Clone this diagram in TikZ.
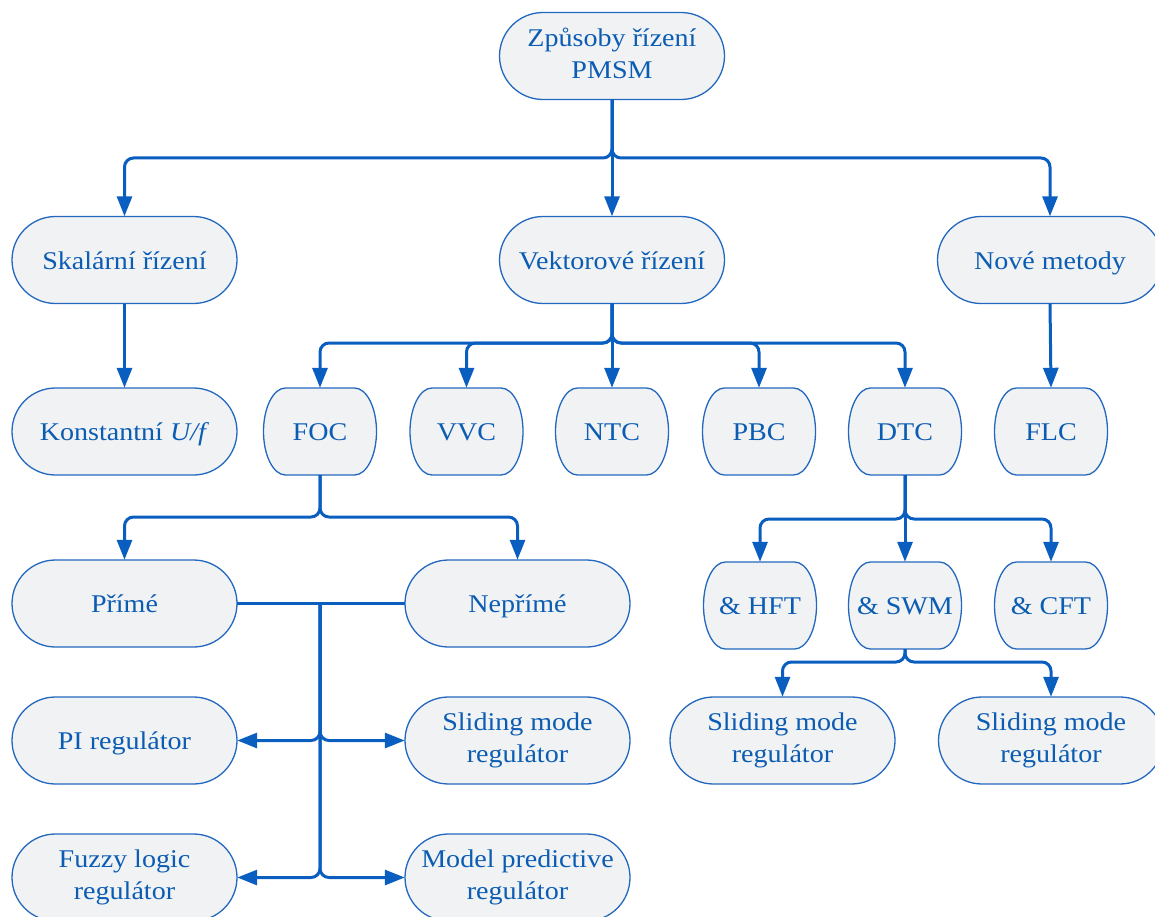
\documentclass[tikz,border=0pt]{standalone}
\usepackage{fontspec}
\setmainfont{Liberation Serif}[FakeStretch=1.1]
\usetikzlibrary{arrows.meta}

\definecolor{lineblue}{HTML}{0A5EC0}
\definecolor{textblue}{HTML}{0B5CB3}
\definecolor{boxedge}{HTML}{2368BF}
\definecolor{boxfill}{HTML}{F1F2F4}

\tikzset{
  pillshape/.style={fill=boxfill, draw=boxedge, line width=1.3pt},
  pilltext/.style={inner sep=0pt, text=textblue, align=center,
                   font=\fontsize{25.5}{32}\selectfont,
                   execute at begin node={\rule{0pt}{24.8pt}},
                   execute at end node={\rule[-6pt]{0pt}{6pt}}},
  link/.style={draw=lineblue, line width=3pt, rounded corners=9pt},
  arr/.style={link, -{Triangle[length=20pt,width=15pt]}},
}

% \pill{name}{centre x}{centre y (downwards)}{width}{end radius}{text}
\newcommand{\pill}[6]{%
  \path[pillshape] ({#2-#4/2+#5},{-#3+43.5}) -- ({#2+#4/2-#5},{-#3+43.5})
    arc[start angle=90, end angle=-90, x radius=#5pt, y radius=43.5pt]
    -- ({#2-#4/2+#5},{-#3-43.5})
    arc[start angle=270, end angle=90, x radius=#5pt, y radius=43.5pt] -- cycle;
  \node[pilltext, minimum width=#4pt, minimum height=87pt] (#1) at (#2,-#3) {#6};
}

\begin{document}
\begin{tikzpicture}[x=1pt, y=1pt]
\useasboundingbox (0,0) rectangle (1155,-917);

% root
\pill{root}{612}{56}{225}{43.5}{Způsoby řízení\\PMSM}

% main families
\pill{skal}{124.5}{260}{225}{43.5}{Skalární řízení}
\pill{vekt}{612}{260}{225}{43.5}{Vektorové řízení}
\pill{nove}{1050}{260}{225}{43.5}{Nové metody}

% methods
\pill{konst}{124.5}{431.5}{225}{43.5}{Konstantní \textit{U/f}}
\pill{foc}{320}{431.5}{113}{22}{FOC}
\pill{vvc}{466.5}{431.5}{113}{22}{VVC}
\pill{ntc}{612}{431.5}{113}{22}{NTC}
\pill{pbc}{759}{431.5}{113}{22}{PBC}
\pill{dtc}{905}{431.5}{113}{22}{DTC}
\pill{flc}{1051}{431.5}{113}{22}{FLC}

% FOC / DTC variants
\pill{prime}{124.5}{603.5}{225}{43.5}{Přímé}
\pill{neprime}{517.5}{603.5}{225}{43.5}{Nepřímé}
\pill{hft}{760}{605.5}{113}{22}{\& HFT}
\pill{swm}{905}{605.5}{113}{22}{\& SWM}
\pill{cft}{1051}{605.5}{113}{22}{\& CFT}

% regulators
\pill{pi}{124.5}{740.5}{225}{43.5}{PI regulátor}
\pill{smra}{517.5}{740.5}{225}{43.5}{Sliding mode\\regulátor}
\pill{smrb}{782.5}{740.5}{225}{43.5}{Sliding mode\\regulátor}
\pill{smrc}{1051}{740.5}{225}{43.5}{Sliding mode\\regulátor}
\pill{fuzzy}{124.5}{877.5}{225}{43.5}{Fuzzy logic\\regulátor}
\pill{mpc}{517.5}{877.5}{225}{43.5}{Model predictive\\regulátor}

% branch points
\coordinate (j0) at (612,-158);
\coordinate (j1) at (612,-343);
\coordinate (j2) at (320,-517);
\coordinate (j3) at (905,-519);
\coordinate (j4) at (905,-662);
\coordinate (jr) at (320,-603.5);

% root -> families
\draw[arr] (root.south) -- (j0) -| (skal.north);
\draw[arr] (root.south) -- (vekt.north);
\draw[arr] (root.south) -- (j0) -| (nove.north);

% families -> methods
\draw[arr] (skal.south) -- (konst.north);
\draw[arr] (nove.south) -- (flc.north);
\draw[arr] (vekt.south) -- (j1) -| (foc.north);
\draw[arr] (vekt.south) -- (j1) -| (vvc.north);
\draw[arr] (vekt.south) -- (ntc.north);
\draw[arr] (vekt.south) -- (j1) -| (pbc.north);
\draw[arr] (vekt.south) -- (j1) -| (dtc.north);

% FOC variants
\draw[arr] (foc.south) -- (j2) -| (prime.north);
\draw[arr] (foc.south) -- (j2) -| (neprime.north);

% DTC variants
\draw[arr] (dtc.south) -- (j3) -| (hft.north);
\draw[arr] (dtc.south) -- (swm.north);
\draw[arr] (dtc.south) -- (j3) -| (cft.north);

% SWM regulators
\draw[arr] (swm.south) -- (j4) -| (smrb.north);
\draw[arr] (swm.south) -- (j4) -| (smrc.north);

% FOC regulators
\draw[link] (prime.east) -- (neprime.west);
\draw[arr] (jr) |- (pi.east);
\draw[arr] (jr) |- (smra.west);
\draw[arr] (jr) |- (fuzzy.east);
\draw[arr] (jr) |- (mpc.west);
\end{tikzpicture}
\end{document}
